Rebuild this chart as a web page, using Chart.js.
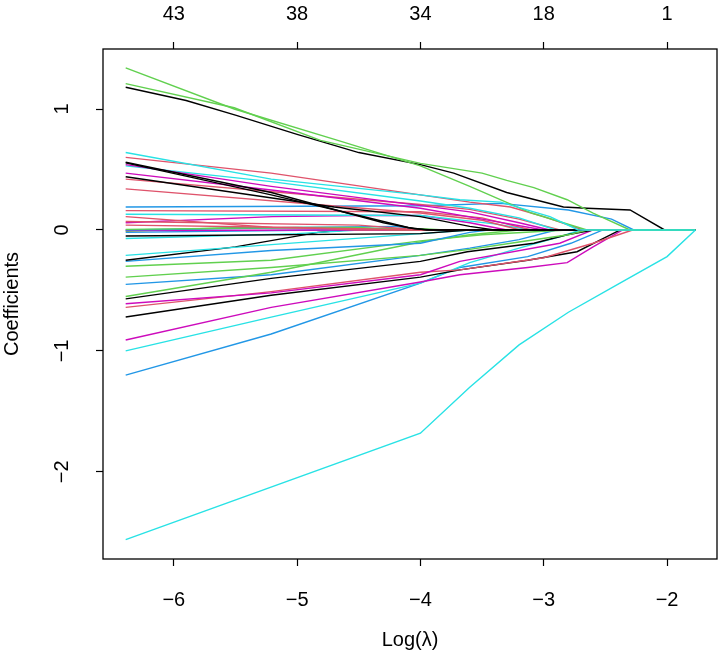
<!DOCTYPE html>
<html>
<head>
<meta charset="utf-8">
<script src="https://cdn.jsdelivr.net/npm/chart.js@4.4.0/dist/chart.umd.min.js"></script>
<style>
  html, body { margin: 0; padding: 0; background: #fff; }
  #wrap { width: 720px; height: 656px; }
</style>
</head>
<body>
<div id="wrap"><canvas id="grafico"></canvas></div>
<script>
// axis ticks
const xTicks = [-6, -5, -4, -3, -2];
const topCounts = ['43', '38', '34', '18', '1'];
const yTicks = [-2, -1, 0, 1];
const xEnd = -1.77;

// coefficient paths, [log(lambda), coefficient]
const cBig = [[-6.39,-2.56],[-4.0,-1.68],[-3.6,-1.30],[-3.2,-0.95],[-2.8,-0.68],[-2.4,-0.45],[-2.0,-0.22],[-1.77,0]];
const g1 = [[-6.39,1.34],[-5.51,1.0],[-4.67,0.74],[-4.0,0.53],[-3.6,0.36],[-3.1,0.14],[-2.65,0]];
const g2 = [[-6.39,1.21],[-5.51,1.01],[-4.81,0.74],[-4.0,0.55],[-3.5,0.47],[-3.3,0.41],[-3.08,0.35],[-2.81,0.25],[-2.6,0.14],[-2.3,0]];
const k1 = [[-6.39,1.18],[-5.9,1.07],[-5.5,0.95],[-5.0,0.79],[-4.5,0.64],[-4.0,0.54],[-3.73,0.47],[-3.3,0.31],[-2.84,0.19],[-2.65,0.18],[-2.3,0.165],[-2.02,0]];
const c1 = [[-6.39,0.64],[-5.21,0.42],[-4.0,0.29],[-3.68,0.25],[-3.35,0.23],[-2.95,0.11],[-2.72,0]];
const r1 = [[-6.39,0.60],[-5.21,0.47],[-3.6,0.23],[-3.27,0.19],[-3.0,0.11],[-2.68,0]];
const k2 = [[-6.39,0.56],[-5.21,0.31],[-4.3,0.06],[-4.05,0.01],[-3.9,0]];
const k3 = [[-6.39,0.555],[-5.21,0.29],[-4.5,0.12],[-4.1,0.02],[-3.95,0]];
const m1 = [[-6.39,0.54],[-5.21,0.36],[-3.6,0.15],[-3.2,0.06],[-2.95,0]];
const c2 = [[-6.39,0.53],[-5.21,0.40],[-4.0,0.24],[-3.6,0.18],[-3.2,0.10],[-2.9,0]];
const m4 = [[-6.39,0.47],[-5.21,0.33],[-4.0,0.18],[-3.5,0.09],[-3.0,0]];
const k4 = [[-6.39,0.44],[-4.7,0.19],[-4.0,0.11],[-3.6,0.03],[-3.4,0]];
const r2 = [[-6.39,0.42],[-4.0,0.21],[-3.6,0.17],[-3.2,0.09],[-2.87,0]];
const r3 = [[-6.39,0.34],[-4.0,0.14],[-3.5,0.08],[-3.19,0]];
const b1 = [[-6.39,0.19],[-4.0,0.20],[-3.35,0.22],[-2.8,0.165],[-2.45,0.09],[-2.27,0]];
const r4 = [[-6.39,0.16],[-4.0,0.15],[-3.5,0.10],[-3.1,0]];
const c3 = [[-6.39,0.13],[-4.0,0.12],[-3.4,0.05],[-3.1,0]];
const r5 = [[-6.39,0.11],[-5.2,0.02],[-4.5,0.01],[-4.0,0]];
const r7 = [[-6.39,0.07],[-4.5,0.04],[-4.0,0]];
const m2 = [[-6.39,0.06],[-5.2,0.11],[-4.5,0.12],[-4.0,0.12],[-3.6,0.06],[-3.3,0]];
const r6 = [[-6.39,0.04],[-5.0,0.02],[-4.5,0]];
const g3 = [[-6.39,0.005],[-5.0,0.02],[-4.5,0.02],[-4.2,0]];
const b2 = [[-6.39,0.0],[-5.0,0.02],[-4.2,0.03],[-4.0,0]];
const m3 = [[-6.39,-0.005],[-4.5,0]];
const g4 = [[-6.39,-0.01],[-5.5,0.02],[-4.0,0.01],[-3.8,0]];
const b3 = [[-6.39,-0.02],[-4.8,0]];
const k5 = [[-6.39,-0.05],[-4.0,-0.03],[-3.6,0]];
const c4 = [[-6.39,-0.07],[-5.0,-0.03],[-4.5,0]];
const c5 = [[-6.39,-0.21],[-4.0,-0.03],[-3.6,0]];
const k6 = [[-6.39,-0.25],[-5.5,-0.14],[-4.83,-0.02],[-4.6,0]];
const b4 = [[-6.39,-0.26],[-5.21,-0.17],[-4.0,-0.11],[-3.6,-0.02],[-3.45,0]];
const g5 = [[-6.39,-0.30],[-5.21,-0.25],[-4.0,-0.09],[-3.5,-0.04],[-3.0,-0.01],[-2.8,0]];
const g6 = [[-6.39,-0.39],[-5.21,-0.31],[-4.0,-0.21],[-3.6,-0.16],[-3.2,-0.10],[-2.8,-0.04],[-2.65,0]];
const g7 = [[-6.39,-0.55],[-5.21,-0.35],[-4.0,-0.10],[-3.6,-0.04],[-3.2,0]];
const b5 = [[-6.39,-0.45],[-5.21,-0.37],[-4.0,-0.21],[-3.6,-0.15],[-3.2,-0.08],[-2.9,0]];
const k7 = [[-6.39,-0.57],[-5.21,-0.40],[-4.0,-0.26],[-3.62,-0.18],[-3.08,-0.11],[-2.81,-0.04],[-2.6,0]];
const m5 = [[-6.39,-0.61],[-5.21,-0.52],[-4.0,-0.37],[-3.68,-0.26],[-2.87,-0.11],[-2.6,0]];
const r8 = [[-6.39,-0.64],[-5.21,-0.51],[-4.0,-0.35],[-3.68,-0.33],[-3.0,-0.23],[-2.6,-0.11],[-2.28,0]];
const k8 = [[-6.39,-0.72],[-5.21,-0.54],[-4.0,-0.39],[-3.68,-0.33],[-3.13,-0.25],[-2.73,-0.18],[-2.38,0]];
const m6 = [[-6.39,-0.91],[-5.21,-0.64],[-4.0,-0.43],[-3.68,-0.37],[-3.13,-0.31],[-2.81,-0.27],[-2.6,-0.14],[-2.36,0]];
const c6 = [[-6.39,-1.0],[-5.21,-0.72],[-4.0,-0.44],[-3.6,-0.27],[-3.2,-0.15],[-2.85,-0.05],[-2.7,0]];
const b6 = [[-6.39,-1.20],[-5.21,-0.86],[-4.0,-0.44],[-3.68,-0.31],[-3.13,-0.22],[-2.78,-0.11],[-2.52,0]];

const pal = { k: '#000000', r: '#DF536B', g: '#61D04F', b: '#2297E6', c: '#28E2E5', m: '#CD0BBC' };
// first entries are drawn on top
const paths = [cBig, c1, g1, g2, k1, r1, k2, k3, m1, c2, m4, k4, r2, r3, b1, r4, c3, r5, r7, m2, r6, g3, b2, m3, g4, b3, k5, c4,
  c5, k6, b4, g5, g6, g7, b5, k7, m5, r8, k8, m6, c6, b6];
const pathCols = ['c','c','g','g','k','r','k','k','m','c','m','k','r','r','b','r','c','r','r','m','r','g','b','m','g','b','k','c',
  'c','k','b','g','g','g','b','k','m','r','k','m','c','b'];

const fuente = { family: "'Liberation Sans', Arial, Helvetica, sans-serif", size: 20 };
const menos = v => String(v).replace('-', '\u2212');

const datasets = paths.map((p, i) => {
  const pts = p.map(([x, y]) => ({ x, y }));
  if (pts[pts.length - 1].x < xEnd) pts.push({ x: xEnd, y: 0 });
  return { data: pts, borderColor: pal[pathCols[i]], borderWidth: 1.4, pointRadius: 0, fill: false, tension: 0 };
});

const caja = {
  id: 'caja',
  afterDatasetsDraw(chart) {
    const { ctx, chartArea: a } = chart;
    ctx.save();
    ctx.strokeStyle = '#000';
    ctx.lineWidth = 1.3;
    ctx.strokeRect(a.left, a.top, a.right - a.left, a.bottom - a.top);
    ctx.restore();
  }
};

const rejilla = { drawOnChartArea: false, drawTicks: true, tickLength: 7, tickColor: '#000', tickWidth: 1.2 };
const fijarX = s => { s.ticks = xTicks.map(v => ({ value: v })); };

new Chart(document.getElementById('grafico'), {
  type: 'line',
  data: { datasets },
  plugins: [caja],
  options: {
    responsive: true, maintainAspectRatio: false, animation: false,
    layout: { padding: { left: 0, right: 3, top: 0, bottom: 0 } },
    plugins: { legend: { display: false }, tooltip: { enabled: false } },
    scales: {
      x: {
        type: 'linear', position: 'bottom', min: -6.574, max: -1.595,
        afterBuildTicks: fijarX,
        afterFit: s => { s.height = 97; },
        grid: rejilla, border: { display: false },
        ticks: { color: '#000', font: fuente, padding: 22, maxRotation: 0, autoSkip: false, callback: v => menos(v) },
        title: { display: true, text: 'Log(\u03bb)', color: '#000', font: fuente, padding: { top: 0, bottom: 4 } }
      },
      x2: {
        type: 'linear', position: 'top', min: -6.574, max: -1.595,
        afterBuildTicks: fijarX,
        afterFit: s => { s.height = 49; },
        grid: rejilla, border: { display: false },
        ticks: { color: '#000', font: fuente, padding: 16, maxRotation: 0, autoSkip: false, callback: (v, i) => topCounts[i] }
      },
      y: {
        type: 'linear', position: 'left', min: -2.72, max: 1.496,
        afterBuildTicks: s => { s.ticks = yTicks.map(v => ({ value: v })); },
        afterFit: s => { s.width = 103; },
        grid: rejilla, border: { display: false },
        ticks: { color: '#000', font: fuente, padding: 22, minRotation: 90, maxRotation: 90, crossAlign: 'center', autoSkip: false, callback: v => menos(v) },
        title: { display: true, text: 'Coefficients', color: '#000', font: fuente, padding: { top: 0, bottom: 0 } }
      }
    }
  }
});
</script>
</body>
</html>
